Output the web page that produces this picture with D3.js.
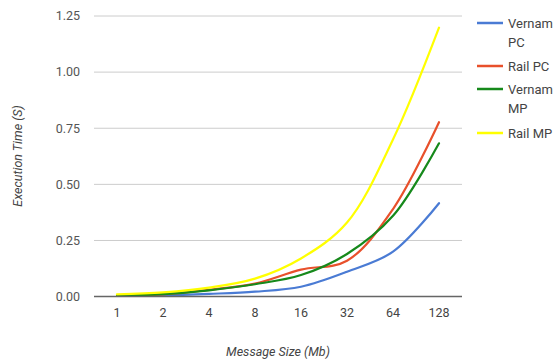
<!DOCTYPE html>
<html><head><meta charset="utf-8">
<script src="https://cdn.jsdelivr.net/npm/d3@7"></script>
<style>body{margin:0;background:#fff;} svg{display:block;font-family:Roboto, Arial, sans-serif;}</style>
</head><body>
<svg id="c" width="557" height="363"></svg>
<script>
const categories = ["1","2","4","8","16","32","64","128"];
const vernamPC = [0.003, 0.005, 0.012, 0.022, 0.044, 0.111, 0.20, 0.416];
const railPC   = [0.005, 0.010, 0.030, 0.058, 0.120, 0.160, 0.39, 0.777];
const vernamMP = [0.005, 0.011, 0.028, 0.055, 0.096, 0.190, 0.36, 0.683];
const railMP   = [0.010, 0.019, 0.040, 0.080, 0.170, 0.330, 0.70, 1.198];
const yTicks = [0, 0.25, 0.5, 0.75, 1.0, 1.25];
const seriesNames = [["Vernam","PC"],["Rail PC"],["Vernam","MP"],["Rail MP"]];
const seriesValues = [vernamPC, railPC, vernamMP, railMP];
const colors = ["#4a7bd4", "#e8502b", "#16891b", "#ffff00"];

const svg = d3.select("#c");
const L = 94, R = 462, T = 16, B = 296.6;
const x = d3.scalePoint().domain(categories).range([L, R]).padding(0.5);
const y = d3.scaleLinear().domain([0, 1.25]).range([B, T]);

svg.append("g").selectAll("line").data(yTicks.filter(d => d > 0)).join("line")
  .attr("x1", L).attr("x2", R).attr("y1", d => y(d)).attr("y2", d => y(d))
  .attr("stroke", "#cccccc").attr("stroke-width", 1);

svg.append("g").selectAll("text").data(yTicks).join("text")
  .attr("x", 80).attr("y", d => y(d)).attr("dy", "0.35em")
  .attr("text-anchor", "end").attr("font-size", 12.5).attr("fill", "#555")
  .text(d => d3.format(".2f")(d));

svg.append("g").selectAll("text").data(categories).join("text")
  .attr("x", d => x(d)).attr("y", 313).attr("dy", "0.35em")
  .attr("text-anchor", "middle").attr("font-size", 12.5).attr("fill", "#444")
  .text(d => d);

const line = d3.line().x((d, i) => x(categories[i])).y(d => y(d)).curve(d3.curveCatmullRom.alpha(0.5));
seriesValues.forEach((vals, k) => {
  svg.append("path").datum(vals).attr("d", line)
    .attr("fill", "none").attr("stroke", colors[k]).attr("stroke-width", 2.2)
    .attr("stroke-linejoin", "round").attr("stroke-linecap", "round");
});

svg.append("line").attr("x1", L).attr("x2", R).attr("y1", y(0)).attr("y2", y(0))
  .attr("stroke", "#666").attr("stroke-width", 1.5);

svg.append("text").attr("x", 278).attr("y", 352).attr("dy", "0.35em")
  .attr("text-anchor", "middle").attr("font-size", 12.5).attr("font-style", "italic").attr("fill", "#444")
  .text("Message Size (Mb)");
svg.append("text").attr("transform", "translate(18,156) rotate(-90)").attr("dy", "0.35em")
  .attr("text-anchor", "middle").attr("font-size", 12.5).attr("font-style", "italic").attr("fill", "#444")
  .text("Execution Time (S)");

const legY = [23, 66, 89, 133];
seriesNames.forEach((nm, k) => {
  const g = svg.append("g");
  g.append("line").attr("x1", 477).attr("x2", 503).attr("y1", legY[k]).attr("y2", legY[k])
    .attr("stroke", colors[k]).attr("stroke-width", 2.5);
  nm.forEach((t, j) => {
    g.append("text").attr("x", 508).attr("y", legY[k] + j * 19).attr("dy", "0.35em")
      .attr("font-size", 13).attr("fill", "#444").text(t);
  });
});
</script>
</body></html>
